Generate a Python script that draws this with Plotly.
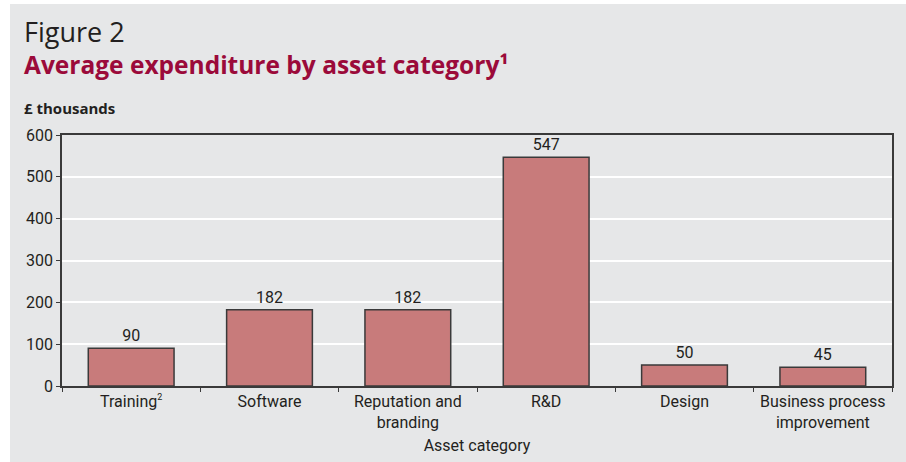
import plotly.graph_objects as go

categories = ["Training<sup><span style='font-size:9px'>2</span></sup>", "Software",
              "Reputation and<br>branding", "R&D", "Design",
              "Business process<br>improvement"]
values = [90, 182, 182, 547, 50, 45]
y_ticks = [0, 100, 200, 300, 400, 500, 600]

W, H = 906, 462
L, R, T, B = 62, 14, 135, 76
PW, PH = W - L - R, H - T - B


def px(x):
    return (x - L) / PW


def py(y):
    return (H - B - y) / PH


FONT = "Open Sans"
NARROW = "Roboto"
BG = "#e6e7e8"
TEXT = "#231f20"

fig = go.Figure()
fig.add_trace(go.Bar(
    x=categories, y=values, width=0.62,
    marker=dict(color="#c87b7b", line=dict(color="#3a3a3a", width=1.5)),
    text=[str(v) for v in values], textposition="outside",
    textfont=dict(family=NARROW, size=16, color=TEXT),
    cliponaxis=False,
))

fig.update_layout(
    width=W, height=H,
    margin=dict(l=L, r=R, t=T, b=B, pad=0, autoexpand=False),
    paper_bgcolor="white", plot_bgcolor="rgba(0,0,0,0)",
    showlegend=False, bargap=0.38,
    font=dict(family=NARROW, size=16, color=TEXT),
    shapes=[dict(type="rect", xref="paper", yref="paper", layer="below",
                 x0=px(10), x1=px(W + 5), y0=py(H + 5), y1=py(4),
                 fillcolor=BG, line=dict(width=0))],
    annotations=[
        dict(text="Figure 2", xref="paper", yref="paper", x=px(22), y=py(32),
             xanchor="left", yanchor="middle", showarrow=False,
             font=dict(family=FONT, size=27, color=TEXT)),
        dict(text="Average expenditure by asset category¹", xref="paper", yref="paper",
             x=px(22), y=py(64), xanchor="left", yanchor="middle", showarrow=False,
             font=dict(family=FONT, size=24.5, color="#9b0a3a", weight="bold")),
        dict(text="£ thousands", xref="paper", yref="paper", x=px(22), y=py(108),
             xanchor="left", yanchor="middle", showarrow=False,
             font=dict(family=FONT, size=15, color=TEXT, weight="bold")),
    ],
)

fig.update_xaxes(
    showline=True, linecolor="#3a3a3a", linewidth=1.5, mirror=True,
    ticks="outside", tickson="boundaries", ticklen=4, tickcolor="#3a3a3a",
    showgrid=False, tickangle=0, automargin=False,
    title=dict(text="Asset category", font=dict(family=NARROW, size=16, color=TEXT), standoff=9),
    tickfont=dict(family=NARROW, size=16, color=TEXT),
)
fig.update_yaxes(
    range=[0, 600], tickvals=y_ticks,
    showline=True, linecolor="#3a3a3a", linewidth=1.5, mirror=True,
    ticks="outside", ticklen=4, tickcolor="#3a3a3a",
    showgrid=True, gridcolor="white", gridwidth=1.5,
    zeroline=False, automargin=False,
    tickfont=dict(family=NARROW, size=16, color=TEXT),
)

fig.write_html("out.html")
